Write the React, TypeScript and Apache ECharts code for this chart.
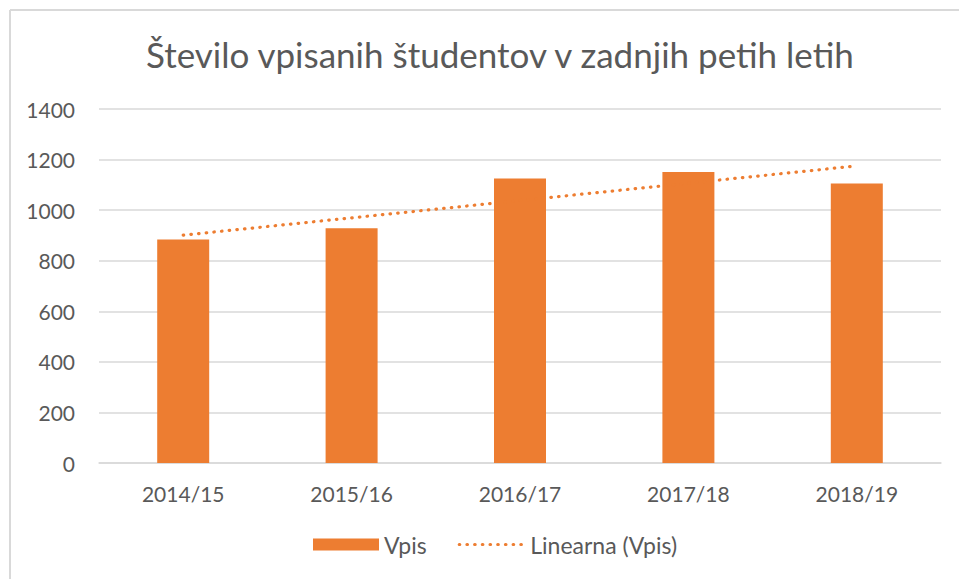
import React, { useEffect, useRef } from "react";
import * as echarts from "echarts";

const categories = ["2014/15", "2015/16", "2016/17", "2017/18", "2018/19"];
const vpis = [884, 928, 1125, 1151, 1105];
// trendline endpoints (first and last category)
const trendStart = 901;
const trendEnd = 1175;
const yTicks = { min: 0, max: 1400, interval: 200 };

const FONT = "Lato, 'Liberation Sans', sans-serif";
const ORANGE = "#ED7D31";
const GREY = "#595959";

export default function App() {
  const ref = useRef<HTMLDivElement>(null);
  useEffect(() => {
    if (!ref.current) return;
    const chart = echarts.init(ref.current, undefined, { renderer: "svg" });
    const dotted = { color: ORANGE, width: 3.2, type: [0.5, 7.2], cap: "round" };
    chart.setOption({
      animation: false,
      backgroundColor: "#ffffff",
      textStyle: { fontFamily: FONT },
      title: {
        text: "Število vpisanih študentov v zadnjih petih letih",
        left: 141,
        top: 31,
        textStyle: { fontFamily: FONT, fontSize: 35, fontWeight: "normal", color: GREY },
      },
      graphic: [
        { type: "line", shape: { x1: 10, y1: 10, x2: 959, y2: 10 }, style: { stroke: "#d9d9d9", lineWidth: 2 } },
        { type: "line", shape: { x1: 10, y1: 10, x2: 10, y2: 579 }, style: { stroke: "#d9d9d9", lineWidth: 2 } },
      ],
      legend: {
        bottom: 18,
        left: 308,
        itemWidth: 66,
        itemHeight: 12,
        itemGap: 31,
        textStyle: { fontFamily: FONT, fontSize: 23, color: GREY },
        data: [
          { name: "Vpis", icon: "rect" },
          { name: "Linearna (Vpis)", itemStyle: { opacity: 0 }, lineStyle: dotted },
        ],
      },
      grid: { left: 99, right: 18, top: 109, bottom: 116, containLabel: false },
      xAxis: {
        type: "category",
        data: categories,
        axisLine: { show: true, lineStyle: { color: "#d9d9d9", width: 1.5 } },
        axisTick: { show: false },
        axisLabel: { fontFamily: FONT, fontSize: 21, color: GREY, margin: 20 },
      },
      yAxis: {
        type: "value",
        min: yTicks.min,
        max: yTicks.max,
        interval: yTicks.interval,
        axisLine: { show: false },
        axisTick: { show: false },
        splitLine: { lineStyle: { color: "#d9d9d9", width: 1.5 } },
        axisLabel: { fontFamily: FONT, fontSize: 21, color: GREY, margin: 24, formatter: (v: number) => String(v) },
      },
      series: [
        {
          name: "Vpis",
          type: "bar",
          data: vpis,
          barWidth: 52,
          itemStyle: { color: ORANGE },
        },
        {
          name: "Linearna (Vpis)",
          type: "line",
          data: [
            [0, trendStart],
            [categories.length - 1, trendEnd],
          ],
          symbol: "none",
          itemStyle: { color: ORANGE },
          lineStyle: dotted,
          z: 3,
        },
      ],
    });
    return () => chart.dispose();
  }, []);
  return <div ref={ref} style={{ width: 959, height: 579, position: "absolute", left: 0, top: 0 }} />;
}
